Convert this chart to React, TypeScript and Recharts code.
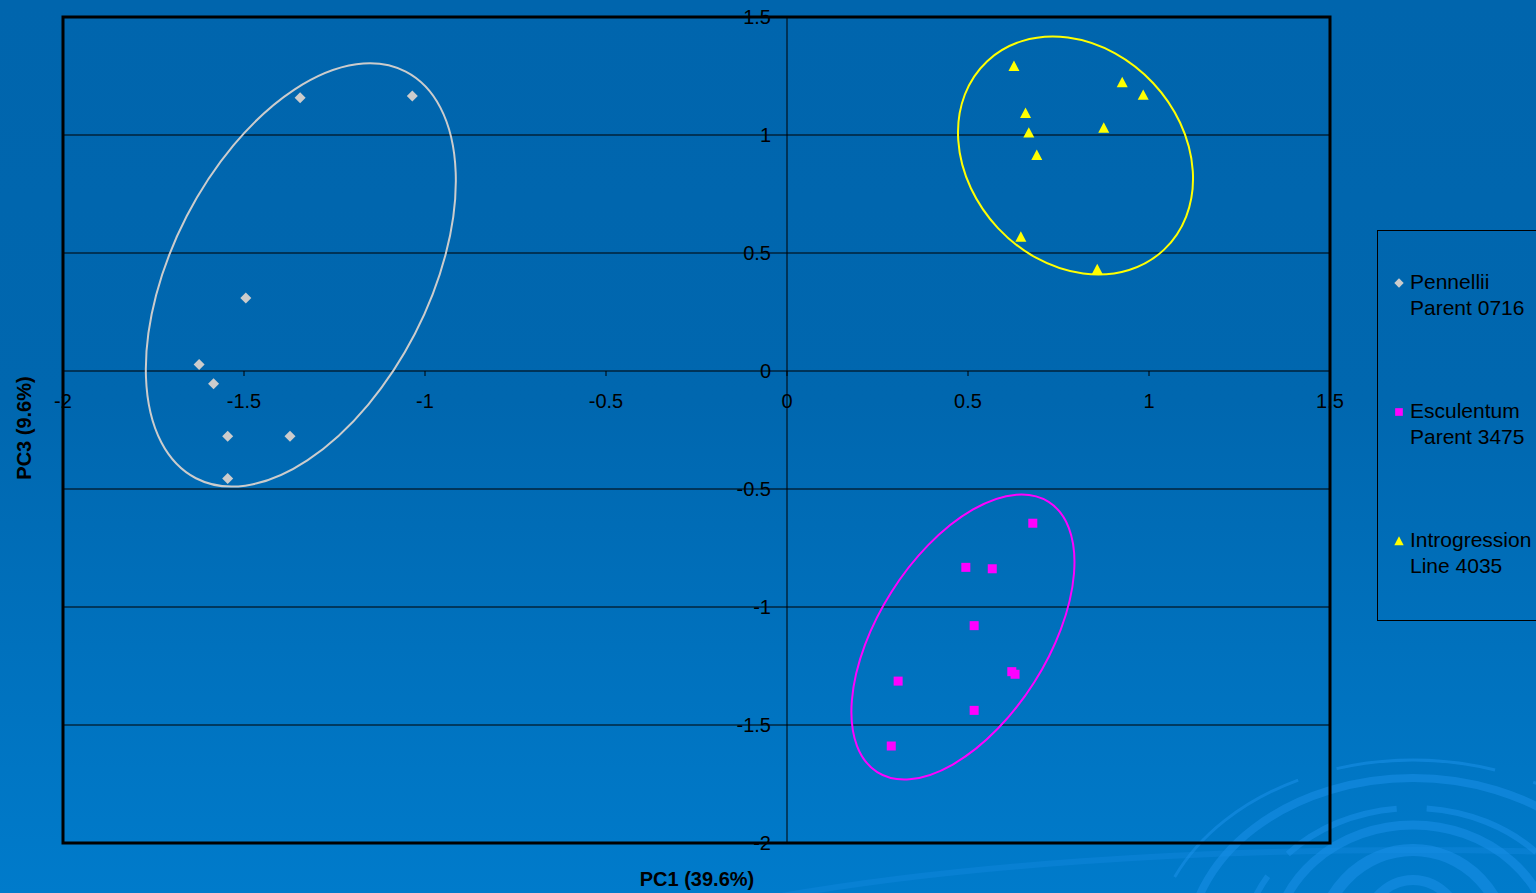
import React from 'react';
import { ScatterChart, Scatter, XAxis, YAxis, CartesianGrid, ReferenceLine, ReferenceArea } from 'recharts';

// PCA scores (PC1 vs PC3)
const pennelliiPC1 = [-1.345, -1.035, -1.495, -1.624, -1.584, -1.545, -1.373, -1.545];
const pennelliiPC3 = [1.158, 1.165, 0.309, 0.028, -0.054, -0.277, -0.277, -0.455];

const esculentumPC1 = [0.679, 0.494, 0.567, 0.517, 0.621, 0.630, 0.307, 0.517, 0.288];
const esculentumPC3 = [-0.645, -0.832, -0.838, -1.079, -1.274, -1.285, -1.314, -1.438, -1.589];

const introPC1 = [0.627, 0.926, 0.984, 0.659, 0.668, 0.875, 0.690, 0.646, 0.857];
const introPC3 = [1.292, 1.223, 1.170, 1.093, 1.010, 1.031, 0.915, 0.569, 0.431];

const X_TICKS = [-2, -1.5, -1, -0.5, 0, 0.5, 1, 1.5];
const Y_TICKS = [1.5, 1, 0.5, 0, -0.5, -1, -1.5, -2];

// group ellipses (pennellii, esculentum, introgression): centre and semi-axes in data units, tilt in degrees
const ellipseCenterX = [-1.343, 0.486, 0.797];
const ellipseCenterY = [0.407, -1.127, 0.913];
const ellipseRadiusX = [0.632, 0.442, 0.357];
const ellipseRadiusY = [0.544, 0.358, 0.450];
const ellipseTilt = [-62.7, -57.6, 46.9];

const SERIES = [
  { name: 'Pennellii', sub: 'Parent 0716', color: '#cccccc', shape: 'diamond', xs: pennelliiPC1, ys: pennelliiPC3 },
  { name: 'Esculentum', sub: 'Parent 3475', color: '#ff00ff', shape: 'square', xs: esculentumPC1, ys: esculentumPC3 },
  { name: 'Introgression', sub: 'Line 4035', color: '#ffff00', shape: 'triangle', xs: introPC1, ys: introPC3 },
];

const W = 1536;
const H = 893;
const PLOT = { left: 63, top: 17, right: 1330, bottom: 843 };
const X_MIN = -2, X_MAX = 1.5, Y_MIN = -2, Y_MAX = 1.5;
const ZERO_X = PLOT.left + ((PLOT.right - PLOT.left) * (0 - X_MIN)) / (X_MAX - X_MIN);
const ZERO_Y = PLOT.top + ((PLOT.bottom - PLOT.top) * (Y_MAX - 0)) / (Y_MAX - Y_MIN);
const FONT = '"Liberation Sans", Arial, sans-serif';

const toPoints = (xs: number[], ys: number[]) => xs.map((x, i) => ({ x, y: ys[i] }));

const Marker = ({ cx, cy, shape, color, s = 1 }: any) => {
  if (cx == null || cy == null) return null;
  if (shape === 'diamond') {
    const r = 5.5 * s;
    return <path d={`M${cx},${cy - r}L${cx + r},${cy}L${cx},${cy + r}L${cx - r},${cy}Z`} fill={color} />;
  }
  if (shape === 'square') {
    const r = 4.5 * s;
    return <rect x={cx - r} y={cy - r} width={2 * r} height={2 * r} fill={color} />;
  }
  const r = 5.5 * s;
  return <path d={`M${cx},${cy - r}L${cx + r},${cy + r * 0.9}L${cx - r},${cy + r * 0.9}Z`} fill={color} />;
};

const XTick = (props: any) => {
  const { x, payload } = props;
  return (
    <g>
      <line x1={x} x2={x} y1={ZERO_Y} y2={ZERO_Y + 5} stroke="#000" />
      <text x={x} y={ZERO_Y + 30} textAnchor="middle" dominantBaseline="central" fontSize={20} fontFamily={FONT} fill="#000">
        {payload.value}
      </text>
    </g>
  );
};

const YTick = (props: any) => {
  const { y, payload } = props;
  return (
    <text x={ZERO_X - 16} y={y} textAnchor="end" dominantBaseline="central" fontSize={20} fontFamily={FONT} fill="#000">
      {payload.value}
    </text>
  );
};

const ellipseShape = (tilt: number, color: string) => (props: any) => {
  const { x, y, width, height } = props;
  const cx = x + width / 2;
  const cy = y + height / 2;
  return (
    <ellipse
      cx={cx}
      cy={cy}
      rx={Math.abs(width) / 2}
      ry={Math.abs(height) / 2}
      transform={`rotate(${tilt} ${cx} ${cy})`}
      fill="none"
      stroke={color}
      strokeWidth={2}
    />
  );
};

const Swirl = () => (
  <svg width={W} height={H} style={{ position: 'absolute', left: 0, top: 0 }}>
    <g fill="none" stroke="#1a90e8" strokeOpacity={0.55}>
      <ellipse cx={1413} cy={1010} rx={900} ry={160} strokeWidth={6} strokeOpacity={0.3} />
      <ellipse cx={1413} cy={955} rx={260} ry={195} strokeWidth={3} strokeDasharray="160 40" />
      <ellipse cx={1413} cy={950} rx={225} ry={172} strokeWidth={8} />
      <ellipse cx={1413} cy={950} rx={170} ry={142} strokeWidth={6} strokeDasharray="120 30" />
      <ellipse cx={1413} cy={950} rx={140} ry={125} strokeWidth={9} />
      <ellipse cx={1413} cy={950} rx={95} ry={100} strokeWidth={12} />
      <ellipse cx={1413} cy={950} rx={55} ry={70} strokeWidth={10} />
    </g>
  </svg>
);

const Legend = () => (
  <div
    style={{
      position: 'absolute',
      left: 1377,
      top: 230,
      width: 175,
      height: 389,
      border: '1px solid #000',
      fontFamily: FONT,
      fontSize: 21,
      color: '#000',
    }}
  >
    {SERIES.map((s, i) => (
      <div key={s.name} style={{ position: 'absolute', left: 32, top: 38 + i * 129, lineHeight: '26px' }}>
        <svg width={14} height={14} style={{ position: 'absolute', left: -18, top: 7 }}>
          <Marker cx={7} cy={7} shape={s.shape} color={s.color} s={0.85} />
        </svg>
        <div>{s.name}</div>
        <div>{s.sub}</div>
      </div>
    ))}
  </div>
);

export default function App() {
  return (
    <div
      style={{
        position: 'absolute',
        left: 0,
        top: 0,
        width: W,
        height: H,
        overflow: 'hidden',
        background: 'linear-gradient(to bottom, #0065ad 0%, #0067af 45%, #007bcb 100%)',
      }}
    >
      <Swirl />
      <div style={{ position: 'absolute', left: 0, top: 0 }}>
        <ScatterChart
          width={W}
          height={H}
          margin={{ left: PLOT.left - 1, top: PLOT.top, right: W - PLOT.right, bottom: H - PLOT.bottom - 1 }}
        >
          <CartesianGrid vertical={false} stroke="#000" strokeWidth={1} />
          <XAxis
            type="number"
            dataKey="x"
            domain={[X_MIN, X_MAX]}
            ticks={X_TICKS}
            height={1}
            axisLine={false}
            tickLine={false}
            tick={XTick}
            interval={0}
            allowDataOverflow
          />
          <YAxis
            type="number"
            dataKey="y"
            domain={[Y_MIN, Y_MAX]}
            ticks={Y_TICKS}
            width={1}
            axisLine={false}
            tickLine={false}
            tick={YTick}
            interval={0}
            allowDataOverflow
          />
          <ReferenceLine x={0} stroke="#000" strokeWidth={1} />
          <ReferenceArea
            x1={X_MIN}
            x2={X_MAX}
            y1={Y_MIN}
            y2={Y_MAX}
            fill="none"
            stroke="#000"
            strokeWidth={3}
            fillOpacity={0}
          />
          {SERIES.map((s, i) => (
            <ReferenceArea
              key={'e' + s.name}
              x1={ellipseCenterX[i] - ellipseRadiusX[i]}
              x2={ellipseCenterX[i] + ellipseRadiusX[i]}
              y1={ellipseCenterY[i] - ellipseRadiusY[i]}
              y2={ellipseCenterY[i] + ellipseRadiusY[i]}
              shape={ellipseShape(ellipseTilt[i], s.color)}
            />
          ))}
          {SERIES.map((s) => (
            <Scatter
              key={s.name}
              name={s.name}
              data={toPoints(s.xs, s.ys)}
              isAnimationActive={false}
              shape={(p: any) => <Marker cx={p.cx} cy={p.cy} shape={s.shape} color={s.color} />}
            />
          ))}
        </ScatterChart>
      </div>
      <Legend />
      <div
        style={{
          position: 'absolute',
          left: 697,
          top: 879,
          transform: 'translate(-50%, -50%)',
          fontFamily: FONT,
          fontWeight: 'bold',
          fontSize: 20,
          whiteSpace: 'nowrap',
          color: '#000',
        }}
      >
        PC1 (39.6%)
      </div>
      <div
        style={{
          position: 'absolute',
          left: 24,
          top: 428,
          transform: 'translate(-50%, -50%) rotate(-90deg)',
          fontFamily: FONT,
          fontWeight: 'bold',
          fontSize: 20,
          whiteSpace: 'nowrap',
          color: '#000',
        }}
      >
        PC3 (9.6%)
      </div>
    </div>
  );
}
